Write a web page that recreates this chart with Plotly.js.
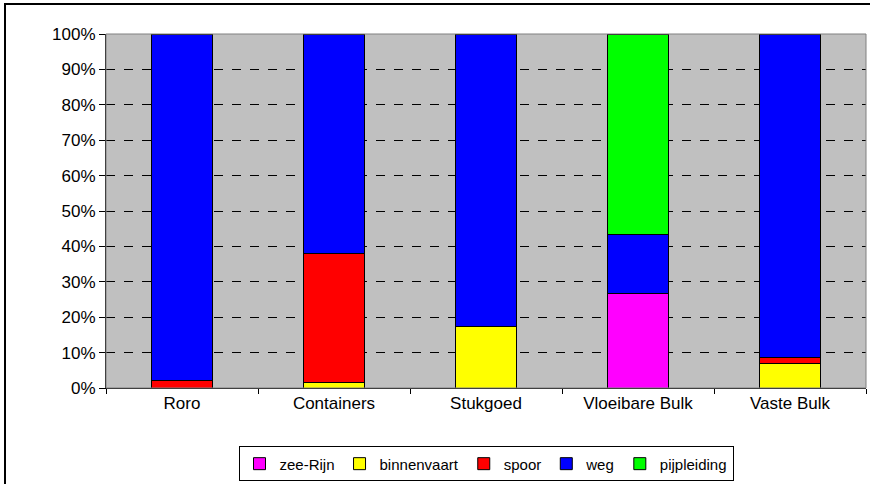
<!DOCTYPE html>
<html>
<head>
<meta charset="utf-8">
<script src="https://cdn.plot.ly/plotly-3.0.1.min.js"></script>
<style>
html,body{margin:0;padding:0;background:#fff;}
#chart{width:870px;height:484px;}
</style>
</head>
<body>
<div id="chart"></div>
<script>
const categories = ["Roro", "Containers", "Stukgoed", "Vloeibare Bulk", "Vaste Bulk"];
const zeeRijn     = [null, null, null, 26.8, null];
const binnenvaart = [null, 1.5, 17.5, null, 7.0];
const spoor       = [2.2, 36.4, null, null, 1.5];
const weg         = [97.8, 62.1, 82.5, 16.7, 91.5];
const pijpleiding = [null, null, null, 56.5, null];
const yTicks = [0, 10, 20, 30, 40, 50, 60, 70, 80, 90, 100];
const yTickText = yTicks.map(v => v + "%");

const seriesNames  = ["zee-Rijn", "binnenvaart", "spoor", "weg", "pijpleiding"];
const seriesValues = [zeeRijn, binnenvaart, spoor, weg, pijpleiding];
const seriesColors = ["#ff00ff", "#ffff00", "#ff0000", "#0000ff", "#00ff00"];

const traces = seriesNames.map((n, i) => ({
  type: "bar",
  name: n,
  x: categories,
  y: seriesValues[i],
  marker: {color: seriesColors[i], line: {color: "#000000", width: 1}},
  hoverinfo: "skip"
}));

const fam = "Liberation Sans, Arial, sans-serif";
const tickFont = {family: fam, size: 17, color: "#000"};

const bx = (5 - 106) / 760;
const by = (388 - 4) / 354;

const layout = {
  width: 870, height: 484,
  margin: {l: 106, r: 4, t: 34, b: 96, autoexpand: false},
  paper_bgcolor: "#ffffff",
  plot_bgcolor: "#c0c0c0",
  barmode: "stack",
  bargap: 0.6,
  font: {family: fam, size: 15, color: "#000"},
  showlegend: true,
  legend: {
    orientation: "h",
    x: 0.5, xanchor: "center",
    y: -0.165, yanchor: "top",
    bordercolor: "#000", borderwidth: 1,
    font: {family: fam, size: 15, color: "#000"},
    traceorder: "normal",
    itemwidth: 30,
    tracegroupgap: 0
  },
  xaxis: {
    type: "category",
    tickson: "boundaries",
    ticks: "outside", ticklen: 5, tickcolor: "#000",
    showline: true, linecolor: "#000", linewidth: 1,
    showgrid: false,
    tickfont: tickFont,
    fixedrange: true
  },
  yaxis: {
    range: [0, 100],
    tickvals: yTicks, ticktext: yTickText,
    ticks: "outside", ticklen: 6, tickcolor: "#000",
    showline: true, linecolor: "#000", linewidth: 1,
    showgrid: true, gridcolor: "#000", gridwidth: 1, griddash: "dash",
    zeroline: false,
    tickfont: tickFont,
    fixedrange: true
  },
  shapes: [
    {type: "rect", xref: "paper", yref: "paper", x0: 0, x1: 1, y0: 0, y1: 1,
     line: {color: "#808080", width: 1}, layer: "above"},
    {type: "path", xref: "paper", yref: "paper",
     path: "M " + bx + " -0.3 L " + bx + " " + by + " L 1.02 " + by,
     line: {color: "#000", width: 2}}
  ]
};

Plotly.newPlot("chart", traces, layout, {displayModeBar: false, staticPlot: true});
</script>
</body>
</html>
